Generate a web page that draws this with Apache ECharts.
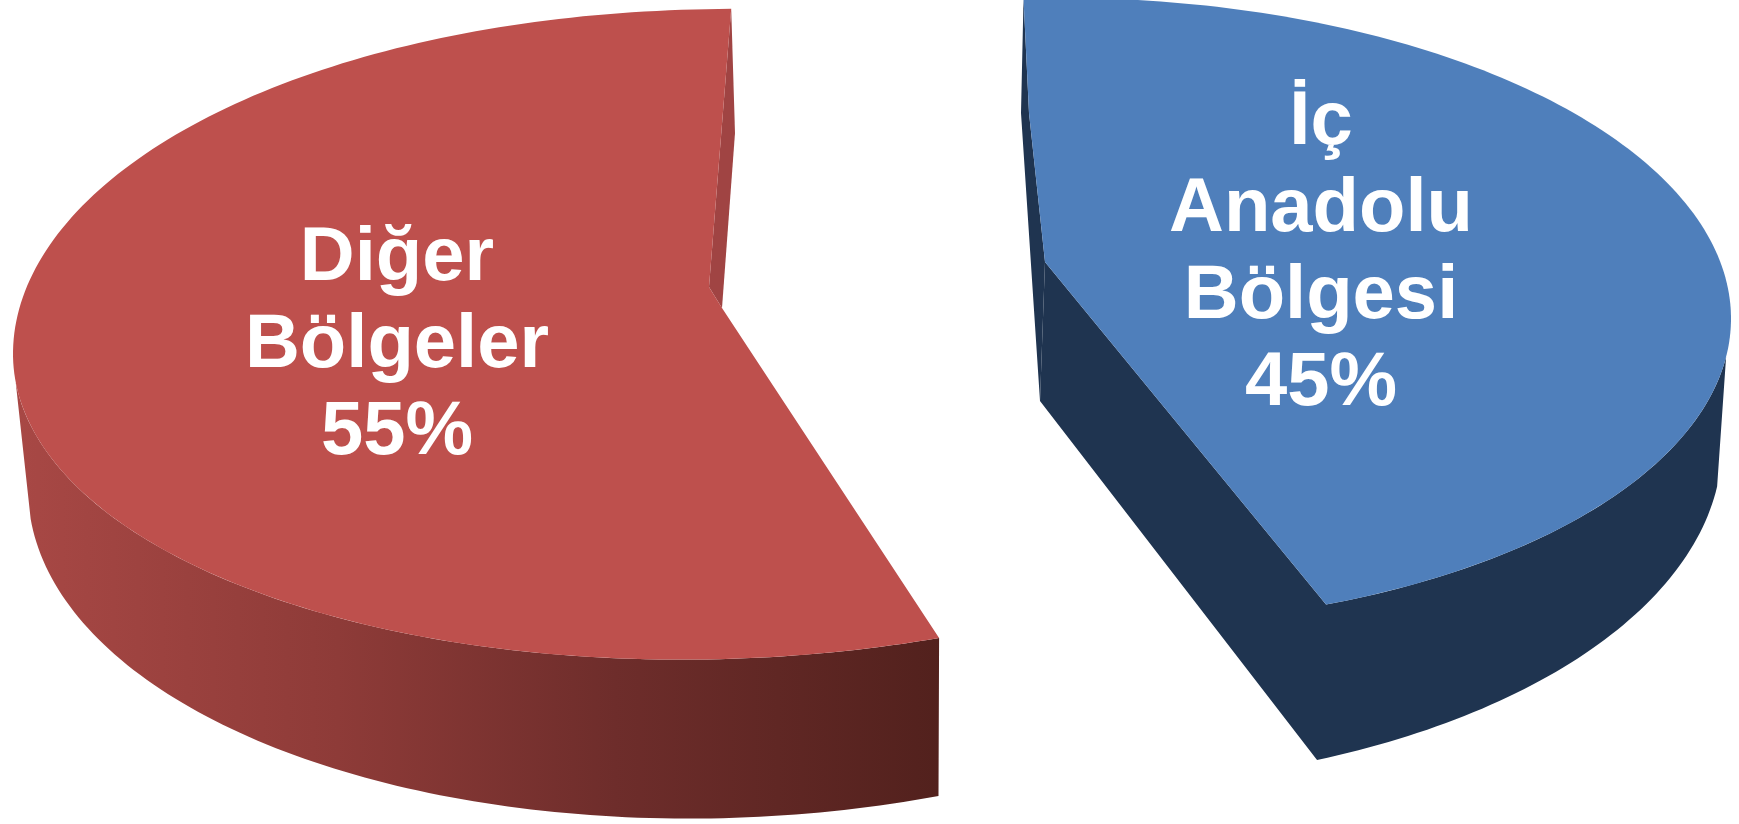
<!DOCTYPE html>
<html>
<head>
<meta charset="utf-8">
<style>html,body{margin:0;padding:0;background:#fff}#c{width:1739px;height:824px}</style>
<script src="https://cdn.jsdelivr.net/npm/echarts@6/dist/echarts.min.js"></script>
</head>
<body>
<div id="c"></div>
<script>
// Chart data
const categories = ['Diğer\nBölgeler', 'İç\nAnadolu\nBölgesi'];
const seriesValues = [55, 45];

// Drawing model of the two exploded slices (not data)
const model = [
  {
    dir: -1, startDeg: -89.5, sideFromDeg: 175,
    top: {cx: 725, cy: 334, rx: 712, ry: 325, k: -0.028, bulge: 8},
    bottom: {cx: 728, cy: 469, rx: 700, ry: 349, k: -0.028, bulge: 0},
    apex: [722, 308], inner: [709, 287], lowCorner: null,
    wall: [[735, 133], [722, 308], [709, 287]],
    face: '#BE504D', wallColor: '#A04443',
    side: {type: 'linear', x: 13, y: 0, x2: 940, y2: 0, global: true, colorStops: [
      {offset: 0, color: '#A84845'}, {offset: 0.35, color: '#8E3B38'},
      {offset: 0.65, color: '#6E2D2B'}, {offset: 1, color: '#52211D'}]},
    label: [397, 346]
  },
  {
    dir: 1, startDeg: -94.5, sideFromDeg: 7,
    top: {cx: 1075, cy: 312, rx: 656, ry: 314, k: 0.01, bulge: 0},
    bottom: {cx: 1066, cy: 445, rx: 656, ry: 341, k: 0, bulge: 0},
    apex: [1045, 262], inner: [1029, 113], lowCorner: [1040, 401],
    wall: [[1021, 113], [1040, 401], [1045, 262], [1029, 113]],
    face: '#4F7FBB', wallColor: '#1F3450', side: '#1F3450',
    label: [1321, 254]
  }
];

function pt(e, deg) {
  const t = deg * Math.PI / 180;
  const s = Math.sin(t);
  const x = e.cx + e.rx * Math.cos(t);
  const extra = s < 0 ? -e.bulge * Math.abs(Math.sin(2 * t)) : 0;
  return [x, e.cy + e.ry * s + e.k * (x - e.cx) + extra];
}
function arc(e, a, b) {
  const n = Math.max(2, Math.ceil(Math.abs(b - a)));
  const out = [];
  for (let i = 0; i <= n; i++) out.push(pt(e, a + (b - a) * i / n));
  return out;
}
const total = seriesValues.reduce((s, v) => s + v, 0);

function renderItem(params, api) {
  const m = model[params.dataIndex];
  const value = api.value(1);
  const sweep = value / total * 360 * m.dir;
  const a0 = m.startDeg, a1 = a0 + sweep;
  const topArc = arc(m.top, a0, a1);
  // outer side wall: from silhouette angle to the end of the slice
  const sideFrom = m.dir < 0 ? m.sideFromDeg - 360 : m.sideFromDeg;
  let sidePts = arc(m.top, sideFrom, a1).concat(arc(m.bottom, a1, sideFrom));
  if (m.lowCorner) {
    sidePts = [m.apex, m.lowCorner].concat(arc(m.bottom, a1, sideFrom), arc(m.top, sideFrom, a1));
  }
  const wallPts = [topArc[0]].concat(m.wall);
  // face outline: apex -> end of arc -> back along the arc -> start -> inner notch
  const facePts = [m.apex].concat(topArc.slice().reverse(), [m.inner]);
  const pct = Math.round(value / total * 100) + '%';
  return {
    type: 'group',
    children: [
      {type: 'polygon', shape: {points: wallPts}, style: {fill: m.wallColor}},
      {type: 'polygon', shape: {points: sidePts}, style: {fill: m.side}},
      {type: 'polygon', shape: {points: facePts}, style: {fill: m.face}},
      {type: 'text', style: {
        text: categories[params.dataIndex] + '\n' + pct,
        x: m.label[0], y: m.label[1], fill: '#FFFFFF',
        font: 'bold 76px "Liberation Sans", Arial, sans-serif',
        lineHeight: 87, align: 'center', verticalAlign: 'middle'
      }}
    ]
  };
}

const chart = echarts.init(document.getElementById('c'), null, {width: 1739, height: 824, renderer: 'canvas'});
chart.setOption({
  animation: false,
  backgroundColor: '#FFFFFF',
  series: [{
    type: 'custom',
    coordinateSystem: 'none',
    renderItem: renderItem,
    data: seriesValues.map((v, i) => [i, v])
  }]
});
</script>
</body>
</html>
